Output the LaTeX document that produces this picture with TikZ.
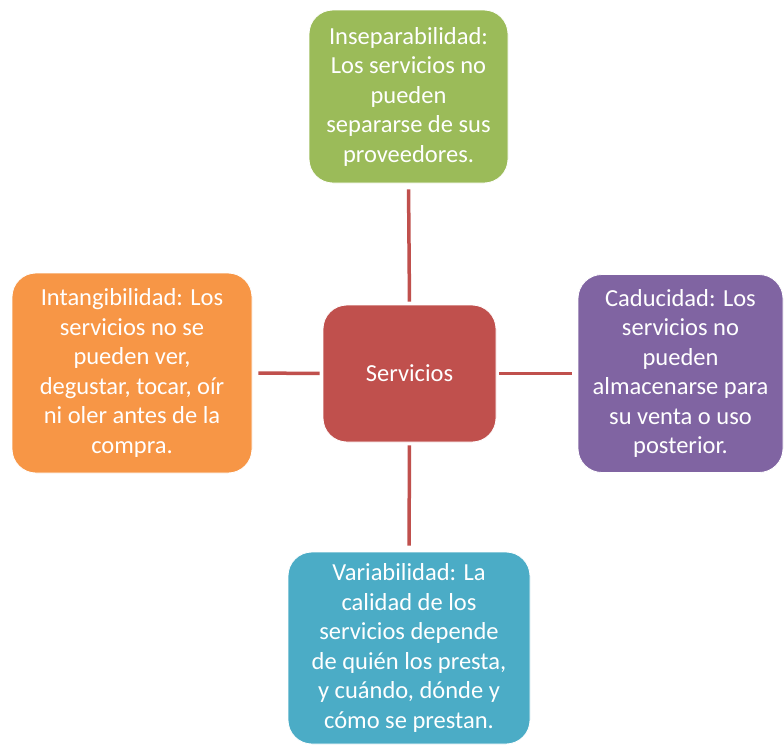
\documentclass[tikz,border=0pt]{standalone}
\usepackage{fontspec,tikz}
\setmainfont{Carlito}

\definecolor{rojo}{HTML}{C0504D}
\definecolor{verde}{HTML}{9BBB59}
\definecolor{naranja}{HTML}{F79646}
\definecolor{morado}{HTML}{8064A2}
\definecolor{azul}{HTML}{4BACC6}

\tikzset{
  caja/.style={rounded corners=24pt,draw=white,line width=0.8pt,text=white,
    align=center,inner sep=0pt,font=\fontsize{24.5}{29.5}\selectfont},
  enlace/.style={draw=rojo,line width=3.5pt,shorten <=3pt,shorten >=6pt}
}

\begin{document}
\begin{tikzpicture}[x=1pt,y=-1pt]
\path[use as bounding box,fill=white] (0,0) rectangle (784,745);
% centro
\node[caja,fill=rojo,minimum width=173pt,minimum height=137pt] (serv) at (409.5,373.5) {Servicios};
% cuatro caracteristicas
\node[caja,fill=verde,minimum width=199pt,minimum height=173pt] (insep) at (408.5,96.5)
  {Inseparabilidad:\\Los servicios no\\pueden\\separarse de sus\\proveedores.};
\node[caja,fill=naranja,minimum width=240pt,minimum height=200pt] (intang) at (132,373)
  {Intangibilidad: Los\\servicios no se\\pueden ver,\\degustar, tocar, oír\\ni oler antes de la\\compra.};
\node[caja,fill=morado,minimum width=205pt,minimum height=198pt] (caduc) at (680.5,373.5)
  {Caducidad: Los\\servicios no\\pueden\\almacenarse para\\su venta o uso\\posterior.};
\node[caja,fill=azul,minimum width=242pt,minimum height=192pt] (varia) at (409,648)
  {Variabilidad: La\\calidad de los\\servicios depende\\de quién los presta,\\y cuándo, dónde y\\cómo se prestan.};
% lineas
\draw[enlace] (serv.north) -- (insep.south);
\draw[enlace] (serv.west) -- (intang.east);
\draw[enlace] (serv.east) -- (caduc.west);
\draw[enlace] (serv.south) -- (varia.north);
\end{tikzpicture}
\end{document}
